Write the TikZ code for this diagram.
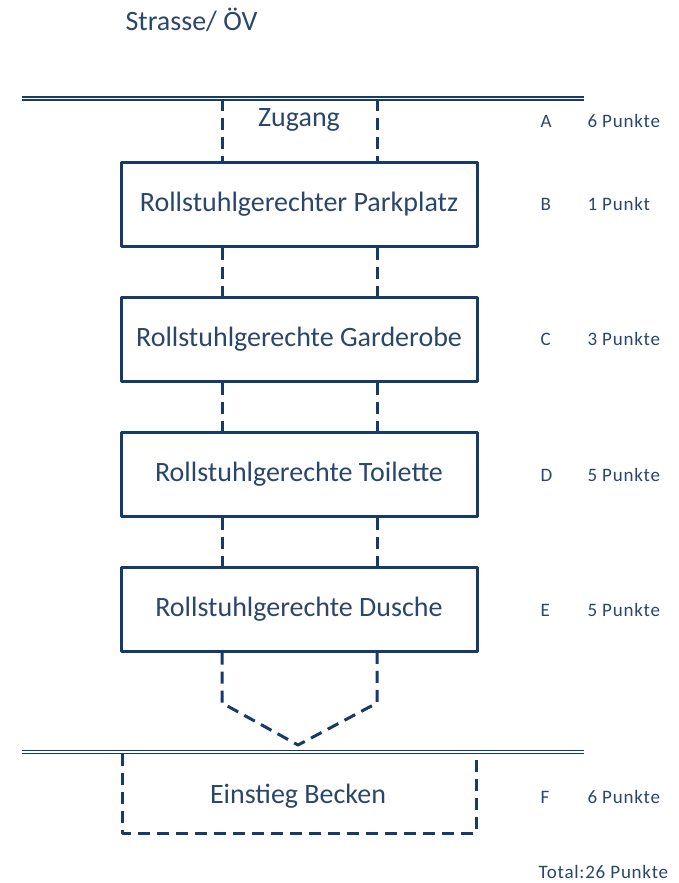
\documentclass[tikz,border=0pt]{standalone}
\usepackage{fontspec}
\setmainfont{Carlito}
\usetikzlibrary{positioning}
\definecolor{navy}{RGB}{22,58,105}
\definecolor{textblue}{RGB}{42,70,108}
\tikzset{
  label/.style={text=textblue, font=\fontsize{28}{32}\selectfont},
  station/.style={label, draw=navy, line width=3pt, minimum width=356pt, minimum height=84pt},
  link/.style={navy, line width=3pt, dash pattern=on 12pt off 7pt},
  rim/.style={navy, line width=1.3pt, double=white, double distance=1.6pt},
  score/.style={text=textblue, font=\fontsize{19}{22}\selectfont\addfontfeature{LetterSpace=4}, anchor=west}
}
\begin{document}
\begin{tikzpicture}[x=1pt, y=-1pt, line join=round]
\useasboundingbox (0,0) rectangle (679,883);
\path
  (22,98.5) coordinate (TL) (584,98.5) coordinate (TR)
  (22,752) coordinate (BL) (584,752) coordinate (BR)
  (222,0) coordinate (XL) (377,0) coordinate (XR)
  (0,703) coordinate (V) (298,745) coordinate (Tip)
  (122,754) coordinate (P1) (122,833) coordinate (P2)
  (476,833) coordinate (P3) (476,754) coordinate (P4);
\node[label] (road) at (191.5,20) {Strasse/ ÖV};
\node[station] (B) at (299,204) {Rollstuhlgerechter Parkplatz};
\node[station] (C) at (299,339) {Rollstuhlgerechte Garderobe};
\node[station] (D) at (299,474) {Rollstuhlgerechte Toilette};
\node[station] (E) at (299,609) {Rollstuhlgerechte Dusche};
\node[label] (A) at (299,120) {Zugang};
\node[label] (F) at (298,796) {Einstieg Becken};
% rand
\draw[rim] (TL) -- (TR);
\draw[rim] (BL) -- (BR);
% wege
\draw[link] (TL -| XL) -- (B.north -| XL);
\draw[link] (TL -| XR) -- (B.north -| XR);
\foreach \u/\v in {B/C,C/D,D/E}{
  \draw[link] (\u.south -| XL) -- (\v.north -| XL);
  \draw[link] (\u.south -| XR) -- (\v.north -| XR);
}
\draw[link] (E.south -| XL) -- (XL |- V) -- (Tip) -- (XR |- V) -- (E.south -| XR);
\draw[link] (P1) -- (P2) -- (P3) -- (P4);
% punkte
\foreach \k/\y/\p in {A/121/6 Punkte,B/204/1 Punkt,C/339/3 Punkte,D/475/5 Punkte,E/610/5 Punkte,F/797/6 Punkte}{
  \node[score] (l\k) at (537,\y) {\k};
  \node[score] (p\k) at (584,\y) {\p};
}
\node[score] (total) at (535,872) {Total:26 Punkte};
\end{tikzpicture}
\end{document}
